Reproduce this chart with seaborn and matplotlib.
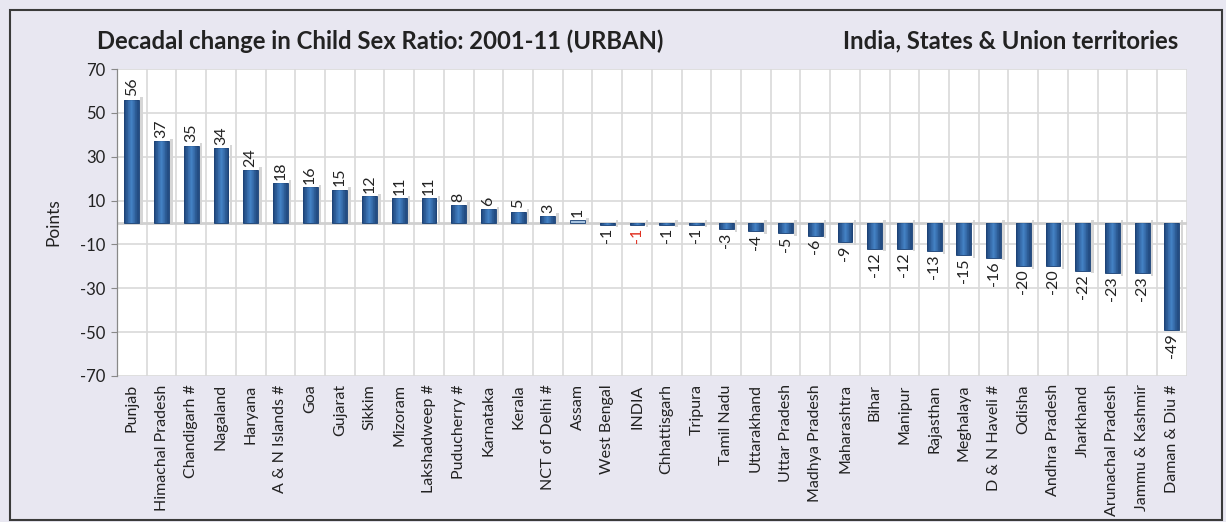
import numpy as np
import pandas as pd
import matplotlib
matplotlib.use("Agg")
import matplotlib.pyplot as plt
import seaborn as sns
from matplotlib.patches import Rectangle

categories = ["Punjab", "Himachal Pradesh", "Chandigarh #", "Nagaland", "Haryana",
              "A & N Islands #", "Goa", "Gujarat", "Sikkim", "Mizoram", "Lakshadweep #",
              "Puducherry #", "Karnataka", "Kerala", "NCT of Delhi #", "Assam",
              "West Bengal", "INDIA", "Chhattisgarh", "Tripura", "Tamil Nadu",
              "Uttarakhand", "Uttar Pradesh", "Madhya Pradesh", "Maharashtra", "Bihar",
              "Manipur", "Rajasthan", "Meghalaya", "D & N Haveli #", "Odisha",
              "Andhra Pradesh", "Jharkhand", "Arunachal Pradesh", "Jammu & Kashmir",
              "Daman & Diu #"]
values = [56, 37, 35, 34, 24, 18, 16, 15, 12, 11, 11, 8, 6, 5, 3, 1,
          -1, -1, -1, -1, -3, -4, -5, -6, -9, -12, -12, -13, -15, -16, -20,
          -20, -22, -23, -23, -49]
yticks = [70, 50, 30, 10, -10, -30, -50, -70]

sns.set_theme(style="white")
plt.rcParams['font.family'] = ['Lato', 'DejaVu Sans']

df = pd.DataFrame({"cat": categories, "val": values})
n = len(categories)

fig = plt.figure(figsize=(12.26, 5.22), dpi=100)
fig.patch.set_facecolor("#e8e7f1")
fig.patches.append(Rectangle((0.008, 0.004), 0.989, 0.976, transform=fig.transFigure,
                             fill=False, edgecolor="#3a3a3a", linewidth=1.5))

ax = fig.add_axes([0.0954, 0.2797, 0.8726, 0.5881])
ax.set_facecolor("white")

colors = ["#9cc3ea" if c == "Assam" else "#2a68b2" for c in categories]
sns.barplot(data=df, x="cat", y="val", hue="cat", palette=colors, legend=False,
            width=0.5, ax=ax, edgecolor="#173f73", linewidth=0.6, zorder=3)

# gradient overlay on each bar
grad = np.array([[0.0, 0.3, 0.7, 1.0, 0.7, 0.3, 0.0]])
cmap = matplotlib.colors.LinearSegmentedColormap.from_list("g", ["#143a70", "#4b93dc"])
for p in ax.patches:
    x0, y0 = p.get_x(), p.get_y()
    w, h = p.get_width(), p.get_height()
    if abs(h) < 1e-9:
        continue
    ax.add_patch(Rectangle((x0 + w * 1.08, min(y0, y0 + h) - 1.2),
                           w * 0.16, abs(h) + 2.4, facecolor="#d6d6d6",
                           edgecolor="none", zorder=2))
    if categories[int(round(x0 + w / 2))] == "Assam":
        continue
    im = ax.imshow(grad, extent=[x0, x0 + w, y0, y0 + h], aspect="auto",
                   cmap=cmap, alpha=0.6, zorder=4)
    im.set_clip_path(p)

ax.set_xlim(-0.5, n - 0.5)
ax.set_ylim(-70, 70)
ax.set_yticks(yticks)
ax.set_yticklabels([str(t) for t in yticks], fontsize=12, color="#222222")
ax.set_xticks(range(n))
ax.set_xticklabels(categories, rotation=90, fontsize=11.5, color="#222222")
ax.tick_params(axis="x", length=0, pad=6)
ax.tick_params(axis="y", length=4, width=0.8, color="#888888", pad=4, left=True)

for t in yticks:
    ax.axhline(t, color="#d9d9d9", linewidth=1.2, zorder=1)
for i in range(n + 1):
    ax.axvline(i - 0.5, color="#d9d9d9", linewidth=1.2, zorder=1)
ax.axhline(0, color="#d0d0d0", linewidth=2.0, zorder=2)

for s in ["top", "right", "bottom"]:
    ax.spines[s].set_visible(False)
ax.spines["left"].set_color("#888888")
ax.spines["left"].set_linewidth(0.9)

ax.set_xlabel("")
ax.set_ylabel("Points", fontsize=12.5, color="#222222", labelpad=14)

for i, v in enumerate(values):
    col = "#e03020" if categories[i] == "INDIA" else "#222222"
    if v >= 0:
        ax.text(i, v + 1.5, str(v), rotation=90, ha="center", va="bottom",
                fontsize=11.5, color=col, zorder=5)
    else:
        ax.text(i, v - 1.5, str(v), rotation=90, ha="center", va="top",
                fontsize=11.5, color=col, zorder=5)

fig.text(0.079, 0.922, "Decadal change in Child Sex Ratio: 2001-11 (URBAN)",
         fontsize=17.2, fontweight="bold", color="#222222", ha="left", va="center")
fig.text(0.961, 0.922, "India, States & Union territories",
         fontsize=17.2, fontweight="bold", color="#222222", ha="right", va="center")

fig.savefig("out.png", dpi=100, facecolor=fig.get_facecolor())
